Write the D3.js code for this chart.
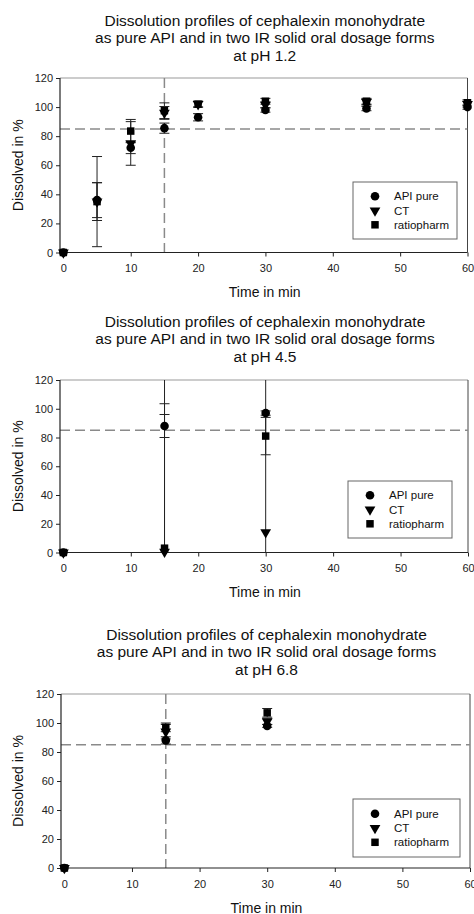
<!DOCTYPE html>
<html>
<head>
<meta charset="utf-8">
<script src="https://cdn.jsdelivr.net/npm/d3@7"></script>
<style>
  html, body { margin: 0; padding: 0; background: #fff; }
  svg { display: block; font-family: "Liberation Sans", Arial, sans-serif; }
</style>
</head>
<body>
<svg id="chart" width="474" height="914"></svg>
<script>
// ---------- data ----------
const seriesNames = ["API pure", "CT", "ratiopharm"];
const xTicks = [0, 10, 20, 30, 40, 50, 60];
const yTicks = [0, 20, 40, 60, 80, 100, 120];
const titleLines = ["Dissolution profiles of cephalexin monohydrate", "as pure API and in two IR solid oral dosage forms"];
const phLabels = ["at pH 1.2", "at pH 4.5", "at pH 6.8"];
const xLabel = "Time in min";
const yLabel = "Dissolved in %";
const limitY = 85;
const limitX = 15;

// pH 1.2
const times1 = [0, 5, 10, 15, 20, 30, 45, 60];
const api1 = [0, 36, 72, 85.5, 93, 98, 99, 100];
const apiSd1 = [0, 12, 4, 3.5, 2.5, 1.5, 1.5, 1.5];
const ct1 = [0, 35, 75, 96, 102, 101.5, 103.5, 102];
const ctSd1 = [0, 13, 15, 4.4, 2, 2, 2, 2];
const ratio1 = [0, 35, 83.5, 97.5, 102, 104, 104, 103];
const ratioSd1 = [0, 31, 8, 5.4, 2, 2, 2, 2];

// pH 4.5
const times2 = [0, 15, 30];
const api2 = [0, 88, 97];
const apiSd2 = [0, 8, 1.5];
const ct2 = [0, 0.5, 14];
const ctSd2 = [0, 103, 110];
const ratio2 = [0, 3, 81];
const ratioSd2 = [0, 125, 13];

// pH 6.8
const times3 = [0, 15, 30];
const api3 = [0, 88, 98];
const apiSd3 = [0, 2.5, 1];
const ct3 = [0, 94, 101];
const ctSd3 = [0, 5, 2];
const ratio3 = [0, 97, 107];
const ratioSd3 = [0, 3, 3];

// ---------- layout ----------
const panels = [
  { times: times1, vals: [api1, ct1, ratio1], sds: [apiSd1, ctSd1, ratioSd1], ph: phLabels[0], vline: true,
    left: 60, right: 467.5, top: 78, bottom: 252.5, titleBase: 26, legend: [353, 182, 457, 239] },
  { times: times2, vals: [api2, ct2, ratio2], sds: [apiSd2, ctSd2, ratioSd2], ph: phLabels[1], vline: false,
    left: 60, right: 468, top: 380, bottom: 552.5, titleBase: 327, legend: [348, 481, 452, 538] },
  { times: times3, vals: [api3, ct3, ratio3], sds: [apiSd3, ctSd3, ratioSd3], ph: phLabels[2], vline: true,
    left: 61, right: 470, top: 694, bottom: 868, titleBase: 640, legend: [353, 799, 460, 857] }
];

const svg = d3.select("#chart");

const symCircle = d3.symbol().type(d3.symbolCircle).size(58)();
const symSquare = d3.symbol().type(d3.symbolSquare).size(56)();
const symTri = d3.symbol().type(d3.symbolTriangle).size(50)();
const symbols = [
  { d: symCircle, rot: 0 },
  { d: symTri, rot: 180 },
  { d: symSquare, rot: 0 }
];

panels.forEach((p, pi) => {
  const g = svg.append("g");
  const x = d3.scaleLinear().domain([-0.5, 60]).range([p.left, p.right]);
  const y = d3.scaleLinear().domain([0, 120]).range([p.bottom, p.top]);
  const cx = (p.left + p.right) / 2 + 1;

  // title
  const tl = [titleLines[0], titleLines[1], p.ph];
  g.selectAll("text.title").data(tl).join("text")
    .attr("class", "title")
    .attr("x", cx).attr("y", (d, i) => p.titleBase + i * 17.3)
    .attr("text-anchor", "middle")
    .attr("font-size", 15.5).attr("fill", "#111")
    .text(d => d);

  const clipId = "clip" + pi;
  g.append("clipPath").attr("id", clipId).append("rect")
    .attr("x", p.left).attr("y", p.top)
    .attr("width", p.right - p.left).attr("height", p.bottom - p.top);

  // frame (top/right)
  g.append("line").attr("x1", p.left).attr("x2", p.right).attr("y1", p.top).attr("y2", p.top)
    .attr("stroke", "#999").attr("stroke-width", 1.2);
  g.append("line").attr("x1", p.right).attr("x2", p.right).attr("y1", p.top).attr("y2", p.bottom)
    .attr("stroke", "#444").attr("stroke-width", 1);

  // reference lines
  const ref = g.append("g").attr("clip-path", `url(#${clipId})`)
    .attr("stroke", "#8a8a8a").attr("stroke-width", 1.5).attr("stroke-dasharray", "10,5").attr("fill", "none");
  ref.append("line").attr("x1", p.left).attr("x2", p.right).attr("y1", y(limitY)).attr("y2", y(limitY));
  if (p.vline) {
    ref.append("line").attr("x1", x(limitX)).attr("x2", x(limitX)).attr("y1", p.top).attr("y2", p.bottom);
  }

  // axes
  const xAxis = d3.axisBottom(x).tickValues(xTicks).tickSize(4).tickPadding(8).tickSizeOuter(0);
  const gx = g.append("g").attr("transform", `translate(0,${p.bottom})`).call(xAxis);
  gx.select(".domain").remove();
  gx.append("line").attr("x1", p.left).attr("x2", p.right).attr("stroke", "#222").attr("stroke-width", 1.2);
  gx.selectAll(".tick text").attr("font-size", 11).attr("fill", "#222").attr("font-family", "Liberation Sans, Arial, sans-serif");
  gx.selectAll(".tick line").attr("stroke", "#222");

  const yAxis = d3.axisLeft(y).tickValues(yTicks).tickSize(4).tickPadding(3).tickSizeOuter(0);
  const gy = g.append("g").attr("transform", `translate(${p.left},0)`).call(yAxis);
  gy.select(".domain").remove();
  gy.append("line").attr("y1", p.top).attr("y2", p.bottom).attr("stroke", "#222").attr("stroke-width", 1.2);
  gy.selectAll(".tick text").attr("font-size", 11).attr("fill", "#222").attr("font-family", "Liberation Sans, Arial, sans-serif");
  gy.selectAll(".tick line").attr("stroke", "#222");

  // axis labels
  g.append("text").attr("x", cx).attr("y", p.bottom + 44.5)
    .attr("text-anchor", "middle").attr("font-size", 14).attr("fill", "#111").text(xLabel);
  g.append("text").attr("transform", `translate(${22.5},${(p.top + p.bottom) / 2}) rotate(-90)`)
    .attr("text-anchor", "middle").attr("font-size", 14).attr("fill", "#111").text(yLabel);

  // error bars
  const eb = g.append("g").attr("clip-path", `url(#${clipId})`).attr("stroke", "#222").attr("stroke-width", 1);
  p.vals.forEach((vals, si) => {
    p.times.forEach((t, i) => {
      const sd = p.sds[si][i];
      if (!sd) return;
      const xp = x(t), yHi = y(vals[i] + sd), yLo = y(vals[i] - sd);
      eb.append("line").attr("x1", xp).attr("x2", xp).attr("y1", yHi).attr("y2", yLo);
      eb.append("line").attr("x1", xp - 5).attr("x2", xp + 5).attr("y1", yHi).attr("y2", yHi);
      eb.append("line").attr("x1", xp - 5).attr("x2", xp + 5).attr("y1", yLo).attr("y2", yLo);
    });
  });

  // markers
  p.vals.forEach((vals, si) => {
    g.append("g").selectAll("path").data(p.times.map((t, i) => [t, vals[i]])).join("path")
      .attr("d", symbols[si].d)
      .attr("transform", d => `translate(${x(d[0])},${y(d[1])}) rotate(${symbols[si].rot})`)
      .attr("fill", "#000");
  });

  // legend
  const [lx0, ly0, lx1, ly1] = p.legend;
  g.append("rect").attr("x", lx0).attr("y", ly0).attr("width", lx1 - lx0).attr("height", ly1 - ly0)
    .attr("fill", "#fff").attr("stroke", "#666").attr("stroke-width", 1);
  const rowH = 14.3;
  const ly = (ly0 + ly1) / 2 - rowH;
  seriesNames.forEach((name, si) => {
    const yy = ly + si * rowH;
    g.append("path").attr("d", symbols[si].d)
      .attr("transform", `translate(${lx0 + 22},${yy}) rotate(${symbols[si].rot})`).attr("fill", "#000");
    g.append("text").attr("x", lx0 + 41).attr("y", yy + 4)
      .attr("font-size", 11.5).attr("fill", "#111").text(name);
  });
});
</script>
</body>
</html>
